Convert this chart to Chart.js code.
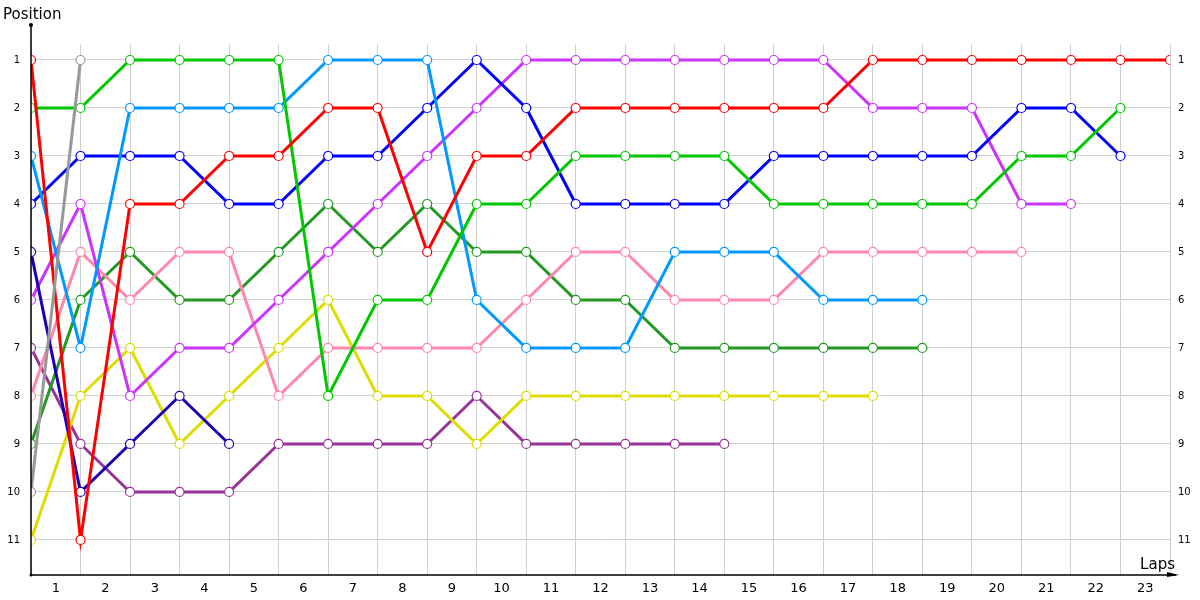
<!DOCTYPE html>
<html>
<head>
<meta charset="utf-8">
<script src="https://cdn.jsdelivr.net/npm/chart.js@4/dist/chart.umd.min.js"></script>
<style>
    html, body { margin: 0; padding: 0; background: #fff; }
    #wrap { width: 1200px; height: 600px; }
</style>
</head>
<body>
<div id="wrap"><canvas id="laps"></canvas></div>
<script>
// voltas (eixo x) e rótulos
const laps = [0,1,2,3,4,5,6,7,8,9,10,11,12,13,14,15,16,17,18,19,20,21,22,23]
const lapLabels = ['1','2','3','4','5','6','7','8','9','10','11','12','13','14','15','16','17','18','19','20','21','22','23']
const positions = [1,2,3,4,5,6,7,8,9,10,11]

// posição de cada carro por volta
const posRed       = [1,11,4,4,3,3,2,2,5,3,3,2,2,2,2,2,2,1,1,1,1,1,1,1]
const posGreen     = [2,2,1,1,1,1,8,6,6,4,4,3,3,3,3,4,4,4,4,4,3,3,2]
const posSky       = [3,7,2,2,2,2,1,1,1,6,7,7,7,5,5,5,6,6,6]
const posBlue      = [4,3,3,3,4,4,3,3,2,1,2,4,4,4,4,3,3,3,3,3,2,2,3]
const posNavy      = [5,10,9,8,9]
const posViolet    = [6,4,8,7,7,6,5,4,3,2,1,1,1,1,1,1,1,2,2,2,4,4]
const posPink      = [8,5,6,5,5,8,7,7,7,7,6,5,5,6,6,6,5,5,5,5,5]
const posDarkGreen = [9,6,5,6,6,5,4,5,4,5,5,6,6,7,7,7,7,7,7]
const posYellow    = [11,8,7,9,8,7,6,8,8,9,8,8,8,8,8,8,8,8]
const posGrey      = [10,1]
const posPlum      = [7,9,10,10,10,9,9,9,9,8,9,9,9,9,9]

function serie(arr, cor){
    return {
        data: arr.map((v, i) => ({x: laps[i], y: v})),
        borderColor: cor,
        backgroundColor: '#ffffff',
        borderWidth: 3,
        pointRadius: 4.5,
        pointBorderWidth: 1.2,
        pointBackgroundColor: '#ffffff',
        pointBorderColor: cor,
        tension: 0
    }
}

// eixos com seta, e títulos
const eixos = {
    id: 'eixos',
    afterDraw(chart){
        const c = chart.ctx
        const a = chart.chartArea
        c.save()
        c.strokeStyle = '#000'
        c.fillStyle = '#000'
        c.lineWidth = 1.5
        c.beginPath()
        c.moveTo(a.left, 25)
        c.lineTo(a.left, a.bottom)
        c.lineTo(a.right + 6, a.bottom)
        c.stroke()
        c.beginPath()
        c.arc(a.left, 25, 2, 0, Math.PI * 2)
        c.fill()
        c.beginPath()
        c.arc(a.left, a.bottom, 1.5, 0, Math.PI * 2)
        c.fill()
        c.beginPath()
        c.moveTo(a.right - 3, a.bottom - 3)
        c.lineTo(a.right + 9, a.bottom)
        c.lineTo(a.right - 3, a.bottom + 2)
        c.closePath()
        c.fill()

        c.font = '15px "DejaVu Sans"'
        c.textBaseline = 'middle'
        c.textAlign = 'left'
        c.fillText('Position', 3, 15)
        c.textAlign = 'right'
        c.fillText('Laps', a.right + 5, 565)
        c.restore()
    }
}

var ctx = document.getElementById('laps').getContext('2d')
var grafico = new Chart(ctx, {
    type: 'line',
    data: {
        datasets: [
            serie(posGrey, '#999999'),
            serie(posRed, '#ff0000'),
            serie(posGreen, '#00c800'),
            serie(posSky, '#0099ff'),
            serie(posBlue, '#0000ff'),
            serie(posNavy, '#1e00b4'),
            serie(posViolet, '#cc33ff'),
            serie(posPink, '#ff88aa'),
            serie(posDarkGreen, '#229922'),
            serie(posYellow, '#dddd00'),
            serie(posPlum, '#993399'),
        ]
    },
    options: {
        responsive: true,
        maintainAspectRatio: false,
        animation: false,
        layout: { padding: { top: 44, left: 0, right: 0, bottom: 0 } },
        plugins: {
            legend: { display: false },
            tooltip: { enabled: false }
        },
        scales: {
            x: {
                type: 'linear',
                min: 0,
                max: 23,
                afterBuildTicks: s => {
                    let t = []
                    for (let i = 0; i <= 46; i++) t.push({value: i / 2})
                    s.ticks = t
                },
                afterFit: s => { s.height = 25 },
                border: { display: false },
                grid: {
                    drawTicks: false,
                    color: c => (c.tick && Number.isInteger(c.tick.value)) ? '#d0d0d0' : 'rgba(0,0,0,0)'
                },
                ticks: {
                    autoSkip: false,
                    maxRotation: 0,
                    padding: 6,
                    color: '#000',
                    font: { size: 13, family: 'DejaVu Sans' },
                    callback: v => Number.isInteger(v) ? '' : lapLabels[Math.floor(v)]
                }
            },
            y: {
                type: 'linear',
                reverse: true,
                min: 0.667,
                max: 11.73,
                position: 'left',
                afterBuildTicks: s => { s.ticks = positions.map(p => ({value: p})) },
                afterFit: s => { s.width = 31 },
                border: { display: false },
                grid: { drawTicks: false, color: '#d0d0d0' },
                ticks: {
                    padding: 11,
                    color: '#000',
                    font: { size: 10, family: 'DejaVu Sans' }
                }
            },
            y2: {
                type: 'linear',
                reverse: true,
                min: 0.667,
                max: 11.73,
                position: 'right',
                afterBuildTicks: s => { s.ticks = positions.map(p => ({value: p})) },
                afterFit: s => { s.width = 30 },
                border: { display: false },
                grid: { display: false },
                ticks: {
                    padding: 0,
                    color: '#000',
                    font: { size: 10, family: 'DejaVu Sans' }
                }
            }
        }
    },
    plugins: [eixos]
})
</script>
</body>
</html>
